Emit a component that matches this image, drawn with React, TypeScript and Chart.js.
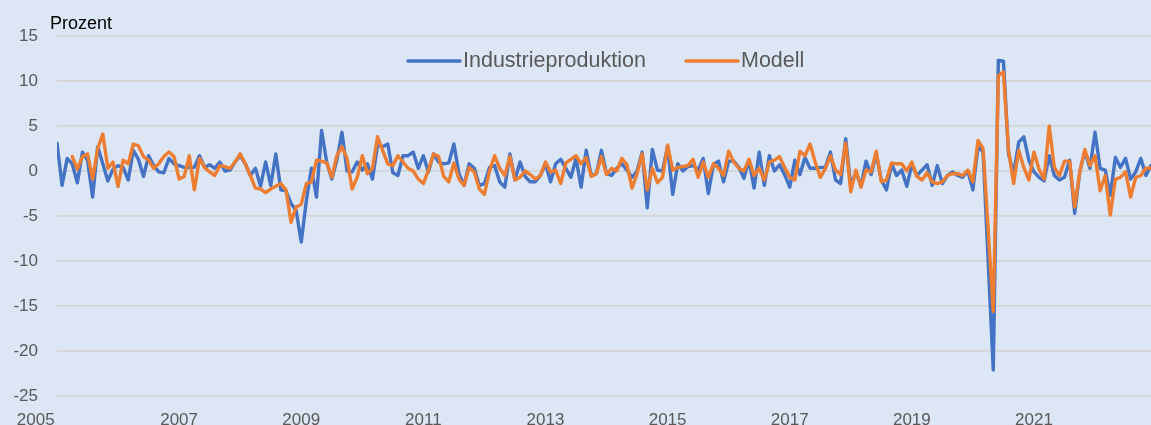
import React, { useEffect, useRef } from "react";
import { Chart, registerables } from "chart.js";

Chart.register(...registerables);

const startYear = 2005;
const yearTickLabels = ["2005", "2007", "2009", "2011", "2013", "2015", "2017", "2019", "2021"];
const seriesNames = ["Industrieproduktion", "Modell"];

const industrieproduktion: number[] = [
  3.1, -1.6, 1.4, 0.8, -1.3, 2.1, 1.2, -2.9, 2.7, 0.8, -1.1, 0.2,
  0.6, 0.4, -1.0, 2.3, 1.3, -0.6, 1.7, 0.6, -0.1, -0.2, 1.4, 0.8,
  0.6, 0.4, 0.4, 0.4, 1.7, 0.4, 0.7, 0.3, 1.0, 0.0, 0.1, 1.0,
  1.7, 0.8, -0.5, 0.3, -1.7, 1.0, -1.6, 1.9, -2.1, -2.2, -3.6, -4.4,
  -7.9, -3.3, 0.3, -2.9, 4.5, 1.0, -0.9, 1.2, 4.3, 0.0, -0.1, 1.0,
  0.1, 0.8, -0.9, 2.9, 2.7, 3.0, -0.2, -0.5, 1.7, 1.7, 2.1, 0.3,
  1.7, -0.1, 1.9, 1.0, 0.8, 0.9, 3.0, -0.3, -1.6, 0.8, 0.3, -1.6,
  -1.4, 0.4, 0.6, -1.2, -1.8, 1.9, -1.0, 1.0, -0.6, -1.2, -1.2, -0.5,
  0.8, -1.2, 0.8, 1.3, 0.3, -0.7, 1.4, -1.8, 2.3, -0.5, -0.3, 2.3,
  -0.3, -0.5, 0.3, 0.8, 0.1, -0.7, 0.0, 2.1, -4.1, 2.4, 0.1, 0.0,
  2.7, -2.6, 0.8, 0.0, 0.5, 0.6, 0.1, 1.4, -2.5, 0.7, 1.1, -1.2,
  1.1, 1.1, 0.4, -0.8, 1.2, -1.9, 2.1, -1.6, 1.7, 0.0, 0.7, -0.4,
  -1.8, 1.2, -0.4, 1.5, 0.3, 0.3, 0.4, 0.4, 2.1, -1.0, -1.4, 3.6,
  -1.7, -0.1, -1.7, 1.1, -0.4, 1.9, -1.0, -2.1, 0.8, -0.5, 0.1, -1.7,
  0.7, -0.5, 0.1, 0.7, -1.6, 0.6, -1.4, -0.5, -0.1, -0.5, -0.7, 0.0,
  -2.1, 2.7, 2.1, -10.0, -22.1, 12.3, 12.2, 1.9, -0.3, 3.2, 3.8, 1.2,
  -0.1, -0.7, -1.1, 1.7, -0.5, -1.0, -0.7, 1.2, -4.7, -0.1, 2.2, 0.3,
  4.3, 0.3, 0.1, -2.7, 1.5, 0.4, 1.4, -0.9, -0.1, 1.4, -0.5, 0.6,
];

const modell: (number | null)[] = [
  null, null, null, 1.6, 0.2, 1.6, 1.9, -0.9, 2.5, 4.1, 0.3, 1.0,
  -1.7, 1.2, 0.8, 3.0, 2.8, 1.6, 1.2, 0.3, 0.8, 1.6, 2.1, 1.6,
  -0.9, -0.6, 1.7, -2.1, 1.4, 0.4, -0.1, -0.5, 0.6, 0.5, 0.3, 1.0,
  1.9, 0.8, -0.5, -1.9, -2.0, -2.4, -2.0, -1.7, -1.4, -2.1, -5.7, -4.0,
  -3.7, -1.4, -1.2, 1.2, 1.1, 0.9, -0.7, 1.7, 2.7, 1.4, -2.0, -0.7,
  1.7, -0.3, 0.3, 3.8, 2.3, 0.8, 0.6, 1.7, 1.0, 0.3, 0.0, -0.9,
  -1.4, 0.1, 1.9, 1.6, -0.6, -1.2, 0.9, -0.9, -1.6, 0.4, -0.1, -2.0,
  -2.6, 0.0, 1.7, 0.3, -0.5, 1.6, -1.0, -0.7, 0.0, -0.4, -0.9, -0.5,
  1.0, -0.1, 0.1, -1.4, 0.9, 1.3, 1.7, 0.8, 1.5, -0.6, -0.3, 1.6,
  -0.4, 0.3, 0.0, 1.4, 0.7, -1.9, -0.3, 1.9, -2.1, 0.3, -1.3, -0.7,
  2.9, 0.1, 0.4, 0.5, 0.6, 1.3, -0.7, 1.0, -0.7, 0.8, 0.3, -0.5,
  2.2, 1.0, 0.3, 0.0, 1.3, -0.5, 0.3, -1.0, 1.0, 1.2, 1.6, 0.4,
  -0.7, -1.0, 2.2, 1.7, 3.0, 1.0, -0.7, 0.3, 1.7, 0.1, -0.4, 3.1,
  -2.3, 0.1, -1.8, 0.1, -0.1, 2.2, -1.2, -1.0, 0.9, 0.8, 0.8, 0.0,
  1.0, -0.6, -1.0, -0.2, -1.2, -1.4, -1.2, -0.5, -0.3, -0.3, -0.5, 0.1,
  -1.2, 3.4, 2.5, -6.5, -15.6, 10.6, 11.0, 2.3, -1.4, 2.3, 0.4, -1.0,
  2.1, 0.2, -0.9, 5.0, 0.4, -0.5, 1.1, 1.1, -4.0, -0.1, 2.4, 0.6,
  1.7, -2.2, -0.5, -4.9, -0.9, -0.7, -0.1, -2.9, -0.7, -0.5, 0.3, 0.3,
];

const BLUE = "#4472C4";
const ORANGE = "#ED7D31";
const BG = "#DCE6F4";
const FONT = "'Liberation Sans', Arial, sans-serif";

const overlayPlugin = {
  id: "overlay",
  afterDraw(chart: any) {
    const ctx = chart.ctx;
    ctx.save();
    // axis unit
    ctx.fillStyle = "#000000";
    ctx.font = `18px ${FONT}`;
    ctx.textAlign = "left";
    ctx.textBaseline = "alphabetic";
    ctx.fillText("Prozent", 50, 29);
    // legend
    const items = [
      { x: 408, color: BLUE, label: seriesNames[0] },
      { x: 686, color: ORANGE, label: seriesNames[1] },
    ];
    const ly = 61;
    ctx.font = `21.5px ${FONT}`;
    ctx.textBaseline = "middle";
    for (const it of items) {
      ctx.strokeStyle = it.color;
      ctx.lineWidth = 3.5;
      ctx.lineCap = "round";
      ctx.beginPath();
      ctx.moveTo(it.x, ly);
      ctx.lineTo(it.x + 52, ly);
      ctx.stroke();
      ctx.fillStyle = "#595959";
      ctx.fillText(it.label, it.x + 55, ly);
    }
    ctx.restore();
  },
};

export default function App() {
  const ref = useRef<HTMLCanvasElement | null>(null);
  useEffect(() => {
    document.body.style.margin = "0";
    const canvas = ref.current!;
    const xs = industrieproduktion.map((_, i) => i);
    const chart = new Chart(canvas, {
      type: "line",
      data: {
        labels: xs,
        datasets: [
          {
            label: seriesNames[0],
            data: industrieproduktion.map((v, i) => ({ x: i, y: v })),
            borderColor: BLUE,
            backgroundColor: BLUE,
            borderWidth: 3.4,
            pointRadius: 0,
            tension: 0,
            borderJoinStyle: "round",
            borderCapStyle: "round",
            order: 2,
          },
          {
            label: seriesNames[1],
            data: modell.map((v, i) => ({ x: i, y: v })),
            borderColor: ORANGE,
            backgroundColor: ORANGE,
            borderWidth: 3.4,
            pointRadius: 0,
            tension: 0,
            borderJoinStyle: "round",
            borderCapStyle: "round",
            spanGaps: false,
            order: 1,
          },
        ],
      },
      options: {
        responsive: false,
        animation: false,
        layout: { padding: { top: 36, left: 0, right: 0, bottom: 0 } },
        plugins: { legend: { display: false }, tooltip: { enabled: false }, title: { display: false } },
        scales: {
          x: {
            type: "linear",
            min: 0,
            max: industrieproduktion.length - 1,
            grid: { display: false, drawTicks: false },
            border: { display: false },
            afterBuildTicks: (scale: any) => {
              scale.ticks = yearTickLabels.map((_, k) => ({ value: k * 24 }));
            },
            afterFit: (scale: any) => {
              scale.height = 44;
            },
            ticks: {
              autoSkip: false,
              maxRotation: 0,
              padding: 14,
              color: "#595959",
              font: { size: 17, family: FONT },
              callback: (v: any) => {
                const label = String(startYear + Math.round(Number(v) / 12));
                // first label sits further left in the original
                return Number(v) === 0 ? label + "         " : label;
              },
            },
          },
          y: {
            min: -25,
            max: 15,
            grid: { color: "#D4D4D4", lineWidth: 1.8, drawTicks: false },
            border: { display: false },
            afterFit: (scale: any) => {
              scale.width = 57;
            },
            ticks: {
              stepSize: 5,
              padding: 19,
              color: "#595959",
              font: { size: 17, family: FONT },
            },
          },
        },
      },
      plugins: [overlayPlugin],
    });
    return () => chart.destroy();
  }, []);
  return (
    <div style={{ width: 1151, height: 425, overflow: "hidden", background: BG }}>
      <canvas ref={ref} width={1151} height={440} style={{ display: "block" }} />
    </div>
  );
}
